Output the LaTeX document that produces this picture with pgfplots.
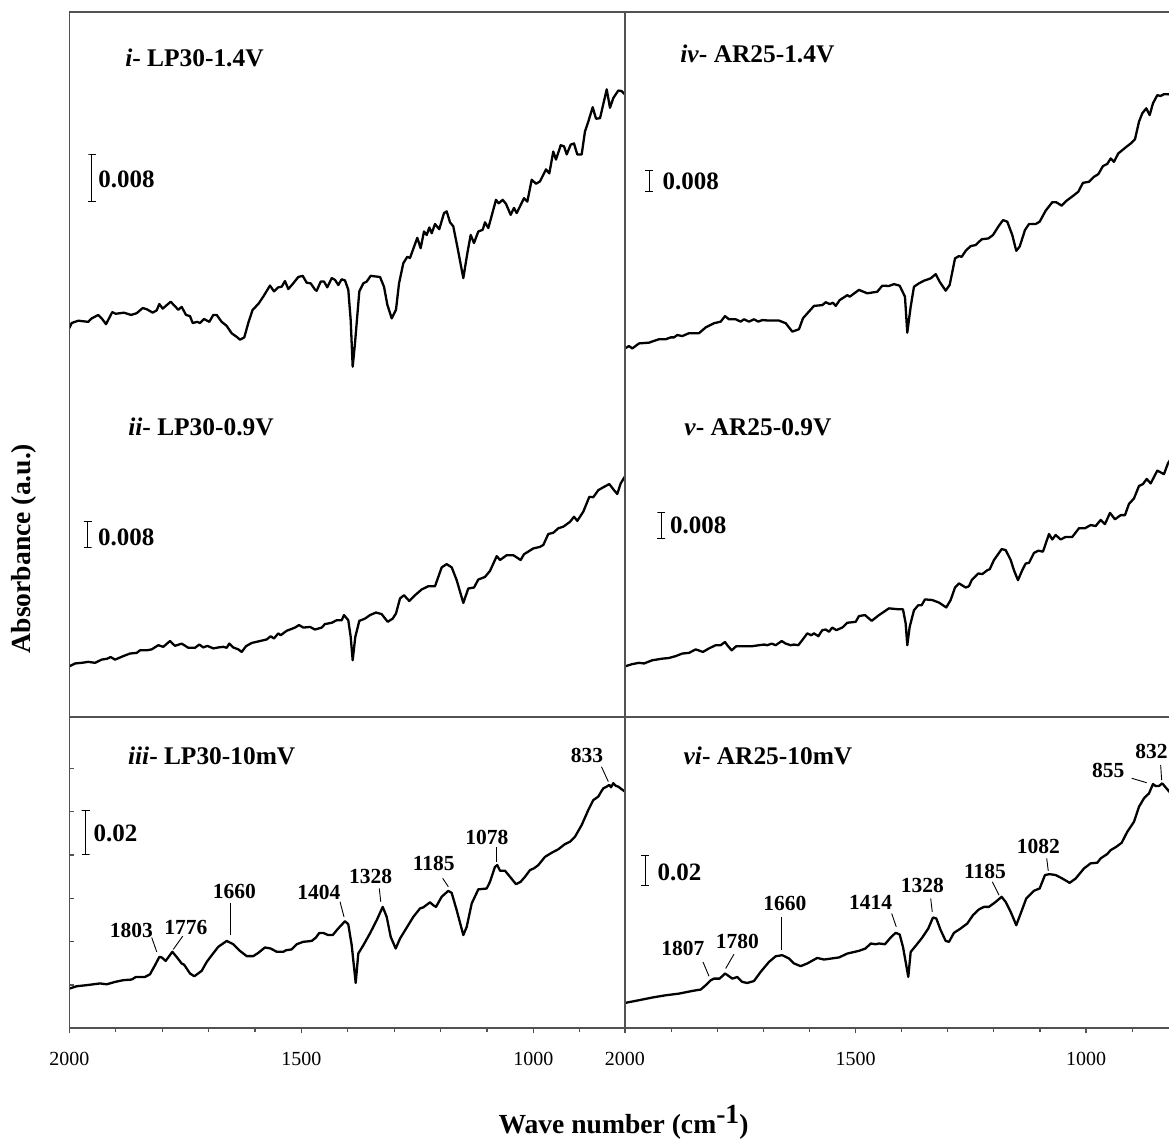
\documentclass[border=0pt]{standalone}
\usepackage{fontspec}
\setmainfont{Liberation Serif}
\usepackage{pgfplots}
\pgfplotsset{compat=1.18}

\definecolor{framegray}{gray}{0.32}

\newcommand{\ttlfont}{\fontsize{12.7}{14}\selectfont\bfseries}
\newcommand{\sbfont}{\fontsize{12.5}{14}\selectfont\bfseries}
\newcommand{\pkfont}{\fontsize{10.75}{12}\selectfont\bfseries}
\newcommand{\tkfont}{\fontsize{10}{12}\selectfont}
\newcommand{\lbfont}{\fontsize{13.8}{16}\selectfont\bfseries}

\pgfplotsset{
  spec/.style={
    scale only axis, x dir=reverse, anchor=south west,
    axis line style={draw=none},
    xtick=\empty, ytick=\empty, ymin=0,
    tick style={framegray, line width=0.6pt},
    major tick length=2.6pt, minor tick length=2pt,
  },
  curve/.style={black, mark=none, line width=1.15pt, line join=round},
  sbar/.style={black, mark=none, line width=0.5pt, forget plot},
  leftcol/.style={width=277.85pt, xmin=802.5, xmax=2000},
  rightcol/.style={width=272pt, xmin=820, xmax=2000},
  topticks/.style={minor xtick={900,1000,...,1900}, xtick pos=right, xtick align=inside, minor tick length=1.6pt},
  bottomticks/.style={
    xtick={1000,1500,2000}, xticklabels={1000,1500,2000},
    minor xtick={900,1100,1200,1300,1400,1600,1700,1800,1900},
    xtick pos=left, xtick align=outside,
    xticklabel style={font=\tkfont, inner sep=0pt, anchor=north, yshift=-9pt},
  },
}
\tikzset{
  ttl/.style={anchor=west, inner sep=0pt, font=\ttlfont},
  sbl/.style={anchor=west, inner sep=0pt, font=\sbfont},
  pk/.style={inner sep=0pt, font=\pkfont},
  ld/.style={black, line width=0.45pt},
}

\begin{document}
\begin{tikzpicture}
\useasboundingbox (0,0) rectangle (584.5pt,570pt);

% ---------------- i: LP30 at 1.4 V ----------------
\begin{axis}[spec, leftcol, topticks, at={(34.65pt,368.5pt)}, height=195.35pt, ymax=0.0679]
\addplot[curve] coordinates {
(2000,0.0130) (1994.8,0.0139) (1980.6,0.0143) (1959.1,0.0141) (1951.7,0.0147) (1937.5,0.0153) (1930.2,0.0147) (1920.9,0.0137) (1907.3,0.0158) (1900.0,0.0155) (1882.1,0.0157) (1867.0,0.0153) (1854.8,0.0156) (1841.8,0.0165) (1833.2,0.0163) (1820.3,0.0157) (1811.7,0.0161) (1806.0,0.0172) (1798.7,0.0164) (1781.5,0.0176) (1765.1,0.0162) (1757.8,0.0167) (1748.5,0.0153) (1739.9,0.0151) (1734.1,0.0139) (1724.2,0.0141) (1718.3,0.0139) (1709.7,0.0146) (1698.3,0.0141) (1689.7,0.0153) (1682.4,0.0153) (1671.6,0.0141) (1660.8,0.0134) (1650.0,0.0121) (1639.3,0.0115) (1632.1,0.0110) (1622.9,0.0114) (1614.3,0.0139) (1604.8,0.0162) (1592.7,0.0172) (1581.9,0.0185) (1567.5,0.0204) (1558.9,0.0194) (1549.6,0.0201) (1542.3,0.0202) (1535.2,0.0212) (1528.1,0.0198) (1517.3,0.0208) (1506.5,0.0219) (1497.0,0.0221) (1488.4,0.0209) (1479.8,0.0208) (1470.5,0.0197) (1466.9,0.0195) (1458.2,0.0211) (1451.1,0.0211) (1444.0,0.0201) (1434.5,0.0217) (1427.4,0.0214) (1420.3,0.0205) (1413.0,0.0215) (1405.9,0.0213) (1398.8,0.0197) (1393.6,0.0144) (1389.3,0.0063) (1384.3,0.0104) (1375.0,0.0194) (1366.4,0.0208) (1359.1,0.0211) (1350.5,0.0221) (1341.2,0.0220) (1330.4,0.0219) (1321.8,0.0202) (1314.7,0.0171) (1305.2,0.0147) (1296.0,0.0162) (1289.4,0.0208) (1280.2,0.0243) (1271.6,0.0254) (1265.8,0.0252) (1250.1,0.0287) (1242.8,0.0269) (1235.6,0.0298) (1229.8,0.0292) (1224.2,0.0305) (1219.0,0.0295) (1211.9,0.0311) (1202.7,0.0302) (1192.5,0.0330) (1186.7,0.0333) (1179.6,0.0314) (1172.5,0.0307) (1163.9,0.0272) (1150.9,0.0217) (1142.3,0.0260) (1135.0,0.0292) (1127.9,0.0278) (1118.6,0.0298) (1109.1,0.0301) (1104.2,0.0314) (1097.0,0.0304) (1080.5,0.0353) (1074.7,0.0347) (1066.0,0.0353) (1058.9,0.0346) (1048.8,0.0327) (1041.7,0.0339) (1035.9,0.0330) (1020.1,0.0356) (1013.0,0.0350) (1003.5,0.0388) (994.3,0.0381) (985.7,0.0385) (972.7,0.0406) (965.6,0.0399) (957.0,0.0437) (951.2,0.0423) (941.0,0.0448) (933.9,0.0446) (928.1,0.0432) (919.5,0.0449) (912.4,0.0451) (905.3,0.0432) (895.8,0.0432) (888.7,0.0472) (881.6,0.0489) (872.1,0.0514) (864.9,0.0494) (856.3,0.0495) (841.9,0.0545) (834.8,0.0513) (827.7,0.0530) (816.9,0.0543) (809.6,0.0542) (802.5,0.0536)
};
% 0.008 absorbance scale bar
\addplot[sbar] coordinates {(1959.6,0.0351) (1942.6,0.0351) (1951.1,0.0351) (1951.1,0.0431) (1959.6,0.0431) (1942.6,0.0431)};
\node[sbl] at (axis cs:1938.2,0.0388) {0.008};
\node[ttl] at (rel axis cs:0.1002,0.883) {\textit{i}- LP30-1.4V};
\end{axis}

% ---------------- iv: AR25 at 1.4 V ----------------
\begin{axis}[spec, rightcol, topticks, at={(312.5pt,368.5pt)}, height=195.35pt, ymax=0.1489]
\addplot[curve] coordinates {
(2000,0.0208) (1991.3,0.0217) (1984.2,0.0208) (1969.6,0.0227) (1947.9,0.0230) (1926.3,0.0243) (1911.7,0.0243) (1900.9,0.0250) (1893.7,0.0250) (1886.6,0.0259) (1875.7,0.0255) (1861.2,0.0266) (1839.5,0.0266) (1824.9,0.0288) (1806.9,0.0304) (1792.4,0.0310) (1783.1,0.0331) (1774.4,0.0319) (1759.9,0.0319) (1749.0,0.0310) (1741.9,0.0319) (1731.0,0.0310) (1720.2,0.0319) (1710.9,0.0310) (1702.2,0.0316) (1687.7,0.0314) (1666.0,0.0314) (1651.4,0.0304) (1637.1,0.0272) (1622.6,0.0281) (1613.9,0.0323) (1590.1,0.0370) (1572.0,0.0373) (1564.7,0.0384) (1556.0,0.0377) (1548.8,0.0382) (1543.0,0.0370) (1534.3,0.0392) (1517.8,0.0411) (1512.6,0.0405) (1492.5,0.0431) (1474.4,0.0418) (1452.8,0.0424) (1441.9,0.0447) (1427.4,0.0446) (1416.5,0.0453) (1404.2,0.0447) (1392.7,0.0405) (1387.7,0.0268) (1380.3,0.0367) (1373.2,0.0443) (1362.3,0.0456) (1351.5,0.0466) (1336.9,0.0475) (1326.1,0.0491) (1317.4,0.0462) (1304.4,0.0428) (1295.7,0.0450) (1284.2,0.0551) (1275.6,0.0560) (1269.7,0.0557) (1261.0,0.0580) (1250.2,0.0598) (1239.3,0.0602) (1226.3,0.0624) (1212.0,0.0627) (1201.8,0.0640) (1190.3,0.0672) (1180.1,0.0697) (1170.8,0.0691) (1159.9,0.0640) (1151.3,0.0580) (1143.9,0.0596) (1132.4,0.0659) (1123.7,0.0682) (1109.2,0.0682) (1100.5,0.0691) (1087.5,0.0733) (1073.2,0.0765) (1064.5,0.0765) (1052.8,0.0752) (1042.8,0.0770) (1028.3,0.0789) (1016.8,0.0805) (1006.6,0.0839) (993.6,0.0843) (982.7,0.0862) (973.4,0.0872) (963.2,0.0903) (953.9,0.0911) (946.5,0.0932) (939.4,0.0919) (930.0,0.0951) (914.0,0.0974) (903.1,0.0989) (893.8,0.1005) (885.1,0.1072) (877.9,0.1104) (869.3,0.1123) (861.9,0.1097) (854.8,0.1142) (845.4,0.1173) (838.1,0.1170) (830.9,0.1177) (822.2,0.1177) (812,0.1172)
};
\addplot[sbar] coordinates {(1956.4,0.0805) (1939.4,0.0805) (1947.9,0.0805) (1947.9,0.0885) (1956.4,0.0885) (1939.4,0.0885)};
\node[sbl] at (axis cs:1919.1,0.0843) {0.008};
\node[ttl] at (rel axis cs:0.1011,0.893) {\textit{iv}- AR25-1.4V};
\end{axis}

% ---------------- ii: LP30 at 0.9 V ----------------
\begin{axis}[spec, leftcol, at={(34.65pt,211.35pt)}, height=157.15pt, ymax=0.0981]
\addplot[curve] coordinates {
(2000,0.0159) (1987.7,0.0168) (1973.3,0.0170) (1959.1,0.0173) (1944.6,0.0170) (1930.2,0.0180) (1918.1,0.0183) (1910.8,0.0188) (1901.5,0.0180) (1883.6,0.0191) (1869.2,0.0199) (1854.8,0.0201) (1847.6,0.0209) (1833.2,0.0209) (1822.4,0.0212) (1808.2,0.0225) (1797.4,0.0220) (1783.0,0.0238) (1772.2,0.0223) (1757.8,0.0230) (1743.6,0.0217) (1729.1,0.0217) (1719.8,0.0227) (1711.2,0.0218) (1702.6,0.0223) (1689.7,0.0215) (1678.9,0.0218) (1668.1,0.0220) (1660.8,0.0217) (1655.2,0.0230) (1646.6,0.0218) (1635.8,0.0212) (1628.5,0.0204) (1619.2,0.0222) (1606.9,0.0232) (1589.0,0.0238) (1574.6,0.0243) (1566.0,0.0253) (1558.9,0.0246) (1549.6,0.0262) (1544.4,0.0256) (1531.5,0.0270) (1513.6,0.0280) (1505.0,0.0288) (1495.7,0.0280) (1481.3,0.0282) (1470.5,0.0274) (1456.1,0.0280) (1449.0,0.0291) (1434.5,0.0295) (1423.8,0.0303) (1413.0,0.0303) (1408.0,0.0319) (1398.8,0.0303) (1393.6,0.0251) (1389.3,0.0178) (1383.7,0.0251) (1375.0,0.0301) (1362.8,0.0308) (1352.0,0.0319) (1339.1,0.0327) (1326.8,0.0322) (1313.9,0.0298) (1303.1,0.0308) (1296.0,0.0324) (1287.3,0.0371) (1278.7,0.0381) (1267.3,0.0363) (1255.0,0.0381) (1240.6,0.0399) (1226.4,0.0409) (1211.9,0.0409) (1197.5,0.0468) (1186.7,0.0478) (1175.9,0.0468) (1165.2,0.0428) (1150.9,0.0357) (1140.2,0.0402) (1127.9,0.0405) (1118.6,0.0430) (1104.2,0.0438) (1093.4,0.0457) (1078.9,0.0503) (1071.8,0.0491) (1057.4,0.0506) (1043.2,0.0506) (1027.3,0.0491) (1020.1,0.0509) (1000.1,0.0527) (985.7,0.0532) (978.5,0.0538) (967.8,0.0572) (957.0,0.0576) (946.2,0.0590) (935.4,0.0595) (921.0,0.0610) (912.4,0.0626) (905.3,0.0613) (892.3,0.0642) (879.4,0.0688) (870.8,0.0687) (860.0,0.0709) (849.2,0.0718) (836.3,0.0728) (826.2,0.0709) (819.1,0.0697) (811.8,0.0730) (802.5,0.0752)
};
\addplot[sbar] coordinates {(1968.8,0.0530) (1951.8,0.0530) (1960.3,0.0530) (1960.3,0.0610) (1968.8,0.0610) (1951.8,0.0610)};
\node[sbl] at (axis cs:1938.8,0.0563) {0.008};
\node[ttl] at (rel axis cs:0.1056,0.9236) {\textit{ii}- LP30-0.9V};
\end{axis}

% ---------------- v: AR25 at 0.9 V ----------------
\begin{axis}[spec, rightcol, at={(312.5pt,211.35pt)}, height=157.15pt, ymax=0.0981]
\addplot[curve] coordinates {
(2000,0.0159) (1984.2,0.0166) (1969.6,0.0170) (1958.8,0.0168) (1940.8,0.0178) (1919.1,0.0183) (1904.6,0.0185) (1890.0,0.0191) (1875.7,0.0199) (1861.2,0.0201) (1846.7,0.0212) (1830.8,0.0204) (1817.8,0.0215) (1803.3,0.0225) (1792.4,0.0225) (1783.1,0.0235) (1778.1,0.0225) (1768.6,0.0209) (1758.6,0.0222) (1738.2,0.0222) (1723.9,0.0222) (1709.4,0.0225) (1698.5,0.0227) (1691.4,0.0225) (1681.8,0.0230) (1673.1,0.0225) (1660.1,0.0238) (1651.4,0.0230) (1640.6,0.0225) (1633.4,0.0227) (1624.1,0.0225) (1615.4,0.0241) (1604.6,0.0262) (1595.9,0.0256) (1590.1,0.0262) (1580.7,0.0253) (1572.0,0.0272) (1564.7,0.0274) (1557.5,0.0267) (1550.4,0.0280) (1541.7,0.0272) (1528.7,0.0280) (1517.8,0.0295) (1499.6,0.0298) (1492.5,0.0316) (1479.4,0.0319) (1464.9,0.0301) (1449.1,0.0319) (1427.4,0.0340) (1405.7,0.0337) (1397.0,0.0337) (1391.2,0.0293) (1387.7,0.0225) (1382.5,0.0282) (1373.2,0.0334) (1363.8,0.0350) (1356.5,0.0350) (1349.3,0.0368) (1333.5,0.0366) (1318.9,0.0358) (1303.1,0.0343) (1293.6,0.0366) (1284.2,0.0405) (1275.6,0.0418) (1261.0,0.0405) (1253.9,0.0409) (1248.0,0.0428) (1233.7,0.0449) (1225.0,0.0447) (1214.2,0.0459) (1208.9,0.0462) (1199.6,0.0491) (1182.9,0.0525) (1174.3,0.0522) (1163.4,0.0491) (1156.3,0.0459) (1147.6,0.0428) (1138.3,0.0459) (1130.9,0.0480) (1123.7,0.0482) (1112.9,0.0513) (1103.6,0.0520) (1093.4,0.0517) (1080.3,0.0572) (1073.2,0.0555) (1065.8,0.0569) (1055.0,0.0555) (1044.1,0.0563) (1029.8,0.0563) (1015.3,0.0590) (1002.3,0.0590) (989.9,0.0600) (979.1,0.0597) (968.2,0.0616) (958.9,0.0603) (948.0,0.0638) (937.2,0.0618) (924.8,0.0631) (915.5,0.0631) (906.8,0.0666) (896.0,0.0683) (885.1,0.0722) (876.4,0.0728) (868.4,0.0744) (859.7,0.0730) (845.4,0.0770) (830.9,0.0759) (822.2,0.0793) (812,0.0815)
};
\addplot[sbar] coordinates {(1929.8,0.0558) (1912.8,0.0558) (1921.3,0.0558) (1921.3,0.0638) (1929.8,0.0638) (1912.8,0.0638)};
\node[sbl] at (axis cs:1903.0,0.0598) {0.008};
\node[ttl] at (rel axis cs:0.1085,0.9226) {\textit{v}- AR25-0.9V};
\end{axis}

% ---------------- iii: LP30 at 10 mV ----------------
\begin{axis}[spec, leftcol, bottomticks, at={(34.65pt,55.85pt)}, height=155.5pt, ymax=0.1435,
  ytick={0.02,0.04,0.06,0.08,0.1,0.12}, yticklabels={}, ytick pos=left, ytick align=inside]
\addplot[curve] coordinates {
(2000,0.0183) (1984.1,0.0194) (1962.5,0.0199) (1933.8,0.0207) (1919.4,0.0203) (1901.5,0.0214) (1883.6,0.0222) (1865.5,0.0225) (1856.3,0.0237) (1836.9,0.0237) (1826.1,0.0249) (1815.3,0.0291) (1806.0,0.0329) (1800.9,0.0327) (1792.3,0.0311) (1786.7,0.0327) (1778.0,0.0353) (1768.6,0.0329) (1757.8,0.0299) (1752.8,0.0294) (1739.9,0.0253) (1730.6,0.0240) (1714.7,0.0265) (1703.9,0.0306) (1693.1,0.0337) (1678.9,0.0376) (1660.8,0.0403) (1646.6,0.0388) (1632.1,0.0357) (1617.7,0.0333) (1603.5,0.0333) (1592.7,0.0348) (1578.3,0.0373) (1566.0,0.0368) (1553.0,0.0353) (1538.8,0.0353) (1533.0,0.0360) (1520.7,0.0364) (1509.9,0.0388) (1495.7,0.0399) (1477.6,0.0403) (1468.4,0.0419) (1461.2,0.0440) (1452.6,0.0440) (1441.9,0.0430) (1432.4,0.0430) (1420.3,0.0461) (1405.9,0.0494) (1398.8,0.0480) (1391.4,0.0383) (1382.8,0.0209) (1377.2,0.0345) (1366.4,0.0383) (1352.0,0.0438) (1337.5,0.0499) (1324.6,0.0560) (1316.0,0.0514) (1307.4,0.0422) (1296.6,0.0368) (1287.3,0.0414) (1258.7,0.0514) (1244.2,0.0553) (1237.1,0.0558) (1222.7,0.0581) (1215.6,0.0568) (1209.8,0.0560) (1197.5,0.0607) (1183.3,0.0634) (1176.0,0.0625) (1165.2,0.0545) (1150.9,0.0430) (1143.6,0.0468) (1132.8,0.0576) (1118.6,0.0641) (1100.5,0.0645) (1093.4,0.0676) (1082.6,0.0745) (1077.7,0.0753) (1071.8,0.0727) (1061.1,0.0727) (1050.3,0.0699) (1037.4,0.0665) (1027.3,0.0676) (1018.0,0.0699) (1007.2,0.0730) (998.6,0.0738) (989.3,0.0753) (974.9,0.0791) (960.4,0.0810) (946.2,0.0826) (931.8,0.0850) (920.9,0.0861) (910.2,0.0884) (895.8,0.0938) (881.6,0.1007) (870.8,0.1053) (860.0,0.1069) (852.7,0.1096) (849.2,0.1107) (841.9,0.1115) (836.3,0.1123) (832.6,0.1112) (827.7,0.1131) (821.8,0.1118) (816.9,0.1115) (809.6,0.1103) (802.5,0.1092)
};
% 0.02 absorbance scale bar
\addplot[sbar] coordinates {(1973.2,0.0803) (1956.2,0.0803) (1964.7,0.0803) (1964.7,0.1003) (1973.2,0.1003) (1956.2,0.1003)};
\node[sbl] at (axis cs:1948.3,0.0900) {0.02};
\node[ttl] at (rel axis cs:0.1051,0.8756) {\textit{iii}- LP30-10mV};
% band assignments
\node[pk] at (axis cs:1866.4,0.0453) {1803};
\draw[ld] (axis cs:1822.4,0.0419) -- (axis cs:1811.6,0.0353);
\node[pk] at (axis cs:1748.9,0.0463) {1776};
\draw[ld] (axis cs:1755.6,0.0425) -- (axis cs:1775.9,0.0364);
\node[pk] at (axis cs:1644.4,0.0630) {1660};
\draw[ld] (axis cs:1653.7,0.0576) -- (axis cs:1653.7,0.0430);
\node[pk] at (axis cs:1461.9,0.0625) {1404};
\draw[ld] (axis cs:1416.6,0.0584) -- (axis cs:1408.0,0.0514);
\node[pk] at (axis cs:1350.9,0.0702) {1328};
\draw[ld] (axis cs:1331.9,0.0645) -- (axis cs:1328.9,0.0584);
\node[pk] at (axis cs:1214.5,0.0761) {1185};
\draw[ld] (axis cs:1195.3,0.0692) -- (axis cs:1183.2,0.0653);
\node[pk] at (axis cs:1099.9,0.0881) {1078};
\draw[ld] (axis cs:1080.5,0.0835) -- (axis cs:1080.5,0.0768);
\node[pk] at (axis cs:884.3,0.1261) {833};
\draw[ld] (axis cs:853.2,0.1207) -- (axis cs:838.4,0.1138);
\end{axis}

% ---------------- vi: AR25 at 10 mV ----------------
\begin{axis}[spec, rightcol, bottomticks, at={(312.5pt,55.85pt)}, height=155.5pt, ymax=0.2072]
\addplot[curve] coordinates {
(2000,0.0169) (1969.6,0.0187) (1940.8,0.0205) (1911.7,0.0220) (1882.9,0.0231) (1854.0,0.0249) (1835.8,0.0258) (1824.9,0.0287) (1814.1,0.0320) (1806.9,0.0331) (1794.6,0.0331) (1783.1,0.0365) (1774.4,0.0347) (1767.3,0.0331) (1756.4,0.0342) (1745.6,0.0309) (1734.7,0.0302) (1720.2,0.0315) (1705.7,0.0376) (1687.7,0.0442) (1673.1,0.0480) (1658.8,0.0487) (1644.3,0.0465) (1633.4,0.0432) (1618.9,0.0414) (1604.6,0.0432) (1582.9,0.0469) (1568.4,0.0458) (1535.8,0.0472) (1517.8,0.0498) (1492.5,0.0516) (1478.0,0.0532) (1467.1,0.0565) (1456.2,0.0560) (1449.1,0.0565) (1436.1,0.0560) (1423.7,0.0605) (1412.9,0.0636) (1404.2,0.0625) (1397.0,0.0542) (1389.9,0.0420) (1385.5,0.0342) (1380.3,0.0509) (1368.2,0.0554) (1355.1,0.0605) (1342.1,0.0665) (1332.0,0.0738) (1324.8,0.0732) (1315.3,0.0654) (1304.4,0.0582) (1297.2,0.0576) (1286.4,0.0636) (1271.9,0.0665) (1257.5,0.0698) (1245.2,0.0754) (1232.2,0.0792) (1221.3,0.0809) (1210.5,0.0809) (1196.0,0.0842) (1183.0,0.0876) (1174.3,0.0842) (1163.4,0.0776) (1151.3,0.0687) (1141.7,0.0765) (1129.6,0.0865) (1112.9,0.0916) (1100.5,0.0932) (1089.0,0.1021) (1078.8,0.1027) (1065.8,0.1021) (1051.5,0.0998) (1035.5,0.0969) (1022.4,0.0998) (1004.4,0.1065) (989.9,0.1099) (975.6,0.1103) (968.2,0.1132) (953.9,0.1161) (946.5,0.1187) (934.4,0.1209) (922.7,0.1236) (910.5,0.1309) (896.0,0.1376) (885.1,0.1476) (874.3,0.1532) (863.4,0.1565) (854.8,0.1627) (848.9,0.1614) (841.8,0.1614) (834.6,0.1632) (827.3,0.1605) (822.2,0.1587) (812,0.1550)
};
\addplot[sbar] coordinates {(1965.1,0.0949) (1948.1,0.0949) (1956.6,0.0949) (1956.6,0.1149) (1965.1,0.1149) (1948.1,0.1149)};
\node[sbl] at (axis cs:1929.9,0.1036) {0.02};
\node[ttl] at (rel axis cs:0.1072,0.8756) {\textit{vi}- AR25-10mV};
% band assignments
\node[pk] at (axis cs:1874.6,0.0532) {1807};
\draw[ld] (axis cs:1830.8,0.0442) -- (axis cs:1817.8,0.0347);
\node[pk] at (axis cs:1756.4,0.0576) {1780};
\draw[ld] (axis cs:1763.6,0.0494) -- (axis cs:1781.6,0.0398);
\node[pk] at (axis cs:1653.0,0.0834) {1660};
\draw[ld] (axis cs:1660.1,0.0742) -- (axis cs:1660.1,0.0520);
\node[pk] at (axis cs:1467.1,0.0842) {1414};
\draw[ld] (axis cs:1421.5,0.0765) -- (axis cs:1411.6,0.0676);
\node[pk] at (axis cs:1355.2,0.0949) {1328};
\draw[ld] (axis cs:1336.9,0.0865) -- (axis cs:1333.5,0.0776);
\node[pk] at (axis cs:1219.2,0.1043) {1185};
\draw[ld] (axis cs:1203.3,0.0976) -- (axis cs:1188.8,0.0887);
\node[pk] at (axis cs:1103.6,0.1209) {1082};
\draw[ld] (axis cs:1085.3,0.1132) -- (axis cs:1081.9,0.1049);
\node[pk] at (axis cs:951.9,0.1721) {855};
\draw[ld] (axis cs:901.0,0.1666) -- (axis cs:868.4,0.1636);
\node[pk, anchor=east] at (axis cs:822,0.1843) {832};
\draw[ld] (axis cs:838.1,0.1754) -- (axis cs:835.9,0.1654);
\end{axis}

% frame lines shared by the panels
\begin{scope}[framegray, line width=0.8pt]
\draw (34.65pt,563.85pt) -- (586pt,563.85pt);
\draw (34.65pt,55.85pt) -- (34.65pt,563.85pt);
\draw (312.5pt,55.85pt) -- (312.5pt,563.85pt);
\draw (34.65pt,211.35pt) -- (586pt,211.35pt);
\draw (34.65pt,55.85pt) -- (586pt,55.85pt);
\end{scope}

% axis titles
\node[rotate=90, inner sep=0pt, font=\lbfont] at (12pt,295.75pt) {Absorbance (a.u.)};
\node[anchor=base, inner sep=0pt, font=\lbfont] at (311.75pt,3.4pt) {Wave number (cm\raisebox{5pt}{-1})};
\end{tikzpicture}
\end{document}
